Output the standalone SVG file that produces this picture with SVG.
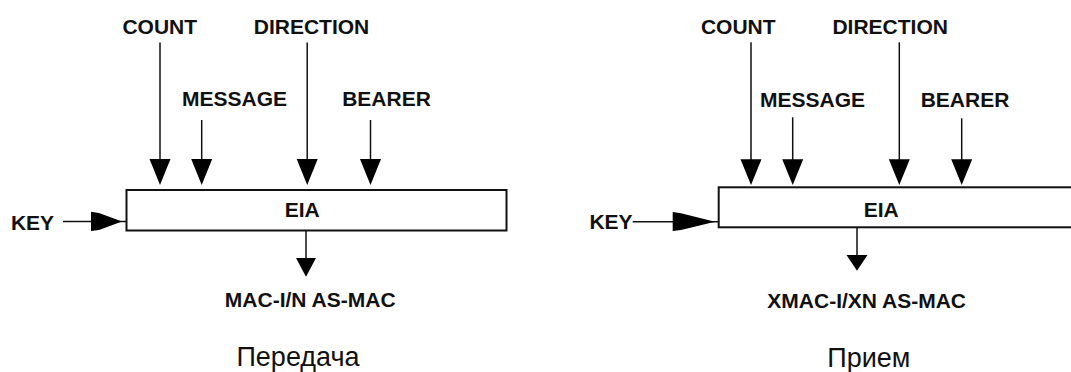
<svg xmlns="http://www.w3.org/2000/svg" width="1071" height="372" viewBox="0 0 1071 372">
<style>
.lbl{font-family:"Liberation Sans",Arial,sans-serif;font-weight:bold;font-size:21px;fill:#111;text-anchor:middle}
.cap{font-family:"Liberation Sans",Arial,sans-serif;font-size:27px;fill:#111;text-anchor:middle}
.box{fill:#fff;stroke:#111;stroke-width:2}
.ln{stroke:#111;stroke-width:1.5;fill:none}
.hd{fill:#000}
</style>
<rect width="1071" height="372" fill="#fff"/>
<g id="left-panel">
<g id="eia-tx">
<rect class="box" x="126.5" y="190" width="380" height="40.5"/>
<text class="lbl" x="302.2" y="216.7">EIA</text>
</g>
<g id="count-tx"><text class="lbl" x="159.8" y="33.5">COUNT</text></g>
<g id="direction-tx"><text class="lbl" x="311.5" y="33.8">DIRECTION</text></g>
<g id="message-tx"><text class="lbl" x="234.6" y="106">MESSAGE</text></g>
<g id="bearer-tx"><text class="lbl" x="386.5" y="106">BEARER</text></g>
<g id="key-tx"><text class="lbl" x="32.5" y="229.5">KEY</text></g>
<g id="mac-tx"><text class="lbl" x="310.2" y="307.3">MAC-I/N AS-MAC</text></g>
<g id="title-tx"><text class="cap" x="298" y="365.7">Передача</text></g>
</g>
<g id="right-panel">
<g id="eia-rx">
<rect class="box" x="718.7" y="187.3" width="360" height="40"/>
<text class="lbl" x="881.2" y="216.7">EIA</text>
</g>
<g id="count-rx"><text class="lbl" x="738.3" y="34">COUNT</text></g>
<g id="direction-rx"><text class="lbl" x="890.2" y="34">DIRECTION</text></g>
<g id="message-rx"><text class="lbl" x="812.6" y="106.5">MESSAGE</text></g>
<g id="bearer-rx"><text class="lbl" x="965" y="106.5">BEARER</text></g>
<g id="key-rx"><text class="lbl" x="611" y="229.3">KEY</text></g>
<g id="xmac-rx"><text class="lbl" x="866.7" y="308.3">XMAC-I/XN AS-MAC</text></g>
<g id="title-rx"><text class="cap" x="868.8" y="366.7">Прием</text></g>
</g>
<g id="connectors">
<!-- left -->
<line class="ln" x1="160" y1="42.5" x2="160" y2="162"/>
<polygon class="hd" points="149.5,159 170.5,159 160,185"/>
<line class="ln" x1="201.7" y1="120" x2="201.7" y2="162"/>
<polygon class="hd" points="191.2,159 212.2,159 201.7,185"/>
<line class="ln" x1="307.2" y1="42.5" x2="307.2" y2="162"/>
<polygon class="hd" points="296.7,159 317.7,159 307.2,185"/>
<line class="ln" x1="370.5" y1="120" x2="370.5" y2="162"/>
<polygon class="hd" points="360,159 381,159 370.5,185"/>
<line class="ln" x1="63" y1="221.5" x2="126" y2="221.5"/>
<polygon class="hd" points="91,211.8 99,213 122,221.5 99,230 91,231"/>
<line class="ln" x1="306" y1="231" x2="306" y2="260"/>
<polygon class="hd" points="296,258 316,258 306,276.7"/>
<!-- right -->
<line class="ln" x1="751" y1="42.3" x2="751" y2="162"/>
<polygon class="hd" points="740.5,159.3 761.5,159.3 751,185"/>
<line class="ln" x1="792.7" y1="117.3" x2="792.7" y2="162"/>
<polygon class="hd" points="782.2,159.3 803.2,159.3 792.7,185"/>
<line class="ln" x1="899.3" y1="42.3" x2="899.3" y2="162"/>
<polygon class="hd" points="888.8,159.3 909.8,159.3 899.3,185"/>
<line class="ln" x1="961.7" y1="118.3" x2="961.7" y2="162"/>
<polygon class="hd" points="951.2,159.3 972.2,159.3 961.7,185"/>
<line class="ln" x1="632.7" y1="221.7" x2="718" y2="221.7"/>
<polygon class="hd" points="672.7,212 681,213.2 715,221.7 681,230 672.7,231"/>
<line class="ln" x1="857" y1="228" x2="857" y2="257"/>
<polygon class="hd" points="846.5,255 867.5,255 857,270.7"/>
</g>
</svg>
